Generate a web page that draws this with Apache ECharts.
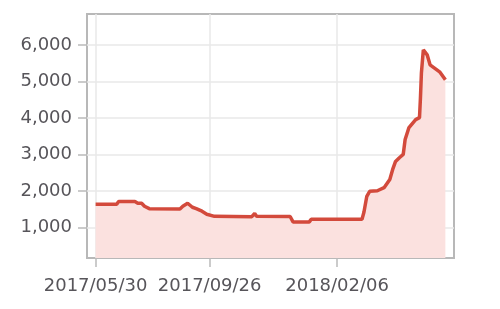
<!DOCTYPE html>
<html>
<head>
<meta charset="utf-8">
<script src="https://cdn.jsdelivr.net/npm/echarts@6/dist/echarts.min.js"></script>
<style>
html,body{margin:0;padding:0;background:#fff;}
#chart{width:500px;height:309px;}
</style>
</head>
<body>
<div id="chart"></div>
<script>
const dates = [
  '2017-05-30','2017-06-21','2017-06-23','2017-07-10','2017-07-13','2017-07-17','2017-07-20','2017-07-25',
  '2017-08-26','2017-08-29','2017-09-03','2017-09-08','2017-09-12','2017-09-18','2017-09-23','2017-10-01',
  '2017-11-09','2017-11-12','2017-11-14','2017-12-19','2017-12-22','2018-01-08','2018-01-10','2018-03-04',
  '2018-03-06','2018-03-09','2018-03-12','2018-03-20','2018-03-27','2018-04-02','2018-04-05','2018-04-08',
  '2018-04-12','2018-04-16','2018-04-18','2018-04-22','2018-04-29','2018-05-03','2018-05-04','2018-05-05',
  '2018-05-07','2018-05-11','2018-05-14','2018-05-24','2018-05-30'
];
const prices = [
  1640,1640,1714,1714,1667,1667,1585,1520,
  1512,1585,1667,1558,1520,1450,1368,1310,
  1300,1387,1310,1305,1158,1158,1232,1232,
  1420,1858,1995,2010,2095,2320,2594,2812,
  2913,3003,3411,3738,3956,4011,4556,5237,
  5864,5728,5455,5264,5046
];
const xTickDates = ['2017-05-30','2017-09-26','2018-02-06'];
const yTickValues = [1000,2000,3000,4000,5000,6000];

const ts = d => Date.UTC(+d.slice(0,4), +d.slice(5,7) - 1, +d.slice(8,10));
const pad = n => (n < 10 ? '0' : '') + n;
const fmtDate = v => { const t = new Date(v); return t.getUTCFullYear() + '/' + pad(t.getUTCMonth() + 1) + '/' + pad(t.getUTCDate()); };
const xTicks = xTickDates.map(ts);
const labelColor = '#57555a';
const chart = echarts.init(document.getElementById('chart'), null, {renderer:'canvas'});
chart.setOption({
  animation: false,
  grid: {left: 87, right: 46, top: 14, bottom: 51, show: true, borderColor: '#b8b8b8', borderWidth: 2, containLabel: false},
  xAxis: {
    type: 'value',
    min: ts('2017-05-21'),
    max: ts('2018-06-08'),
    axisLine: {show: false},
    axisTick: {show: true, length: 9, lineStyle: {color: '#bbb', width: 1.5}, customValues: xTicks},
    axisLabel: {
      customValues: xTicks,
      color: labelColor, fontFamily: 'DejaVu Sans', fontSize: 18, margin: 19,
      formatter: v => fmtDate(v)
    },
    splitLine: {show: true, lineStyle: {color: '#e8e8e8', width: 1.5}}
  },
  yAxis: {
    type: 'value',
    min: 170, max: 6845,
    axisLine: {show: false},
    axisTick: {show: true, length: 9, lineStyle: {color: '#bbb', width: 1.5}, customValues: yTickValues},
    axisLabel: {
      customValues: yTickValues,
      color: labelColor, fontFamily: 'DejaVu Sans', fontSize: 18, margin: 15,
      formatter: v => v.toLocaleString('en-US')
    },
    splitLine: {show: true, lineStyle: {color: '#e8e8e8', width: 1.5}}
  },
  series: [{
    type: 'line',
    data: dates.map((d, i) => [ts(d), prices[i]]),
    showSymbol: false,
    symbol: 'none',
    lineStyle: {color: '#d34a3c', width: 3.5},
    areaStyle: {color: '#fbe1df', opacity: 1},
    z: 3
  }]
});
</script>
</body>
</html>
